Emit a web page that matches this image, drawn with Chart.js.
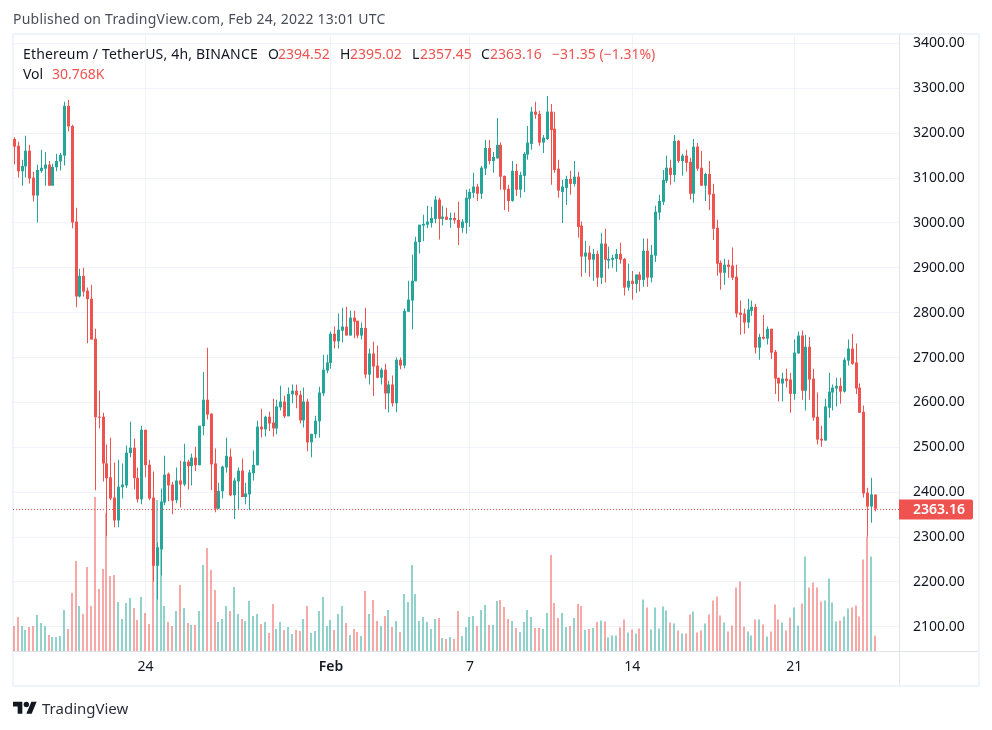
<!DOCTYPE html>
<html>
<head>
<meta charset="utf-8">
<title>ETHUSDT 4h</title>
<script src="https://cdn.jsdelivr.net/npm/chart.js@4"></script>
<style>
  html, body { margin: 0; padding: 0; background: #fff; }
  #wrap { position: relative; width: 992px; height: 730px; overflow: hidden; font-family: "Noto Sans", sans-serif; color: #131722; }
  #myChart { position: absolute; left: 0; top: 0; }
  #frame { position: absolute; left: 12px; top: 33px; width: 964px; height: 650px; border: 2px solid #f0f3fa; }
  #sepV { position: absolute; left: 899px; top: 34px; width: 1px; height: 651px; background: #e0e3eb; }
  #sepH { position: absolute; left: 899px; top: 651px; width: 79px; height: 1px; background: #e0e3eb; }
  .t { position: absolute; font-size: 14px; line-height: 18px; white-space: nowrap; }
  .r { color: #ef5350; }
  #logo { position: absolute; left: 13px; top: 699px; }
</style>
</head>
<body>
<div id="wrap">
  <div id="frame"></div>
  <div id="sepV"></div>
  <div id="sepH"></div>
  <canvas id="myChart" width="992" height="730"></canvas>
  <div class="t" style="left:13px;top:10px;color:#4a4e59;letter-spacing:.22px">Published on TradingView.com, Feb 24, 2022 13:01 UTC</div>
  <div class="t" style="left:23px;top:45px;letter-spacing:.18px">Ethereum / TetherUS, 4h, BINANCE</div>
  <div class="t" style="left:268px;top:45px">O</div><div class="t r" style="left:278px;top:45px">2394.52</div>
  <div class="t" style="left:340px;top:45px">H</div><div class="t r" style="left:350px;top:45px">2395.02</div>
  <div class="t" style="left:412px;top:45px">L</div><div class="t r" style="left:420px;top:45px">2357.45</div>
  <div class="t" style="left:481px;top:45px">C</div><div class="t r" style="left:490px;top:45px">2363.16</div>
  <div class="t r" style="left:552px;top:45px">−31.35 (−1.31%)</div>
  <div class="t" style="left:23px;top:65px">Vol</div><div class="t r" style="left:52px;top:65px">30.768K</div>
  <svg id="logo" width="24" height="19" viewBox="0 0 36 28"><path fill="#131722" d="M14 22H7V11H0V4h14v18zM28 22h-8l7.5-18h8L28 22z"/><circle fill="#131722" cx="20" cy="8" r="4"/></svg>
  <div class="t" style="left:42px;top:699px;font-size:15px;color:#2a2e39">TradingView</div>
</div>
<script>
const priceTicks = [2100, 2200, 2300, 2400, 2500, 2600, 2700, 2800, 2900, 3000, 3100, 3200, 3300, 3400];
const timeTickIndex = [34, 82, 118, 160, 202];
const timeTickLabels = ['24', 'Feb', '7', '14', '21'];

const opens = [3187,3172,3115,3126,3161,3101,3061,3116,3121,3130,3083,3124,3137,3150,3261,3216,3003,2836,2882,2849,2831,2742,2568,2568,2464,2433,2388,2337,2411,2415,
2487,2499,2432,2384,2539,2461,2388,2236,2272,2377,2441,2417,2382,2426,2417,2468,2458,2477,2460,2547,2606,2575,2464,2363,2402,2455,2479,2393,2424,2448,
2389,2395,2442,2460,2546,2540,2568,2555,2542,2589,2602,2569,2618,2626,2617,2560,2602,2511,2529,2558,2620,2671,2688,2753,2736,2760,2769,2749,2789,2782,
2749,2766,2662,2709,2682,2655,2673,2620,2640,2598,2695,2682,2802,2827,2870,2957,2994,2996,3000,3009,3052,3009,3014,3007,3011,3007,2989,3000,3054,3067,
3081,3065,3121,3167,3138,3144,3174,3105,3076,3049,3116,3074,3105,3152,3176,3248,3243,3179,3187,3248,3210,3121,3069,3078,3098,3087,3103,2994,2925,2934,
2918,2931,2878,2954,2916,2918,2920,2931,2920,2856,2871,2864,2885,2873,2938,2878,2927,3023,3047,3094,3123,3107,3183,3138,3150,3136,3065,3170,3123,3083,
3109,3065,2989,2911,2889,2907,2905,2880,2800,2798,2778,2804,2813,2722,2746,2742,2764,2713,2655,2642,2653,2651,2619,2709,2749,2626,2724,2653,2568,2519,
2515,2588,2622,2631,2637,2624,2693,2720,2689,2633,2579,2399,2368,2394.52];
const highs = [3191,3181,3141,3194,3174,3114,3130,3163,3158,3138,3132,3154,3156,3270,3274,3219,3034,2898,2900,2856,2862,2764,2626,2577,2506,2521,2466,2472,2464,2504,
2557,2519,2455,2548,2539,2472,2446,2288,2408,2481,2444,2423,2455,2470,2508,2472,2486,2501,2548,2668,2722,2575,2497,2421,2459,2521,2497,2432,2455,2475,
2421,2450,2493,2559,2586,2570,2579,2608,2606,2637,2615,2633,2640,2640,2626,2633,2608,2530,2570,2635,2706,2706,2758,2769,2798,2811,2813,2804,2804,2782,
2778,2811,2720,2735,2726,2677,2686,2648,2660,2700,2700,2809,2871,2929,2969,2996,3018,3038,3036,3060,3056,3038,3034,3023,3023,3047,3009,3074,3076,3112,
3087,3127,3185,3185,3158,3234,3179,3105,3085,3138,3132,3114,3158,3216,3259,3270,3250,3196,3283,3265,3248,3141,3096,3105,3116,3138,3114,3003,2960,2949,
2942,2938,2978,2987,2947,2929,2942,2956,2922,2909,2893,2885,2891,2965,2965,2951,3038,3063,3118,3150,3141,3196,3185,3154,3163,3145,3187,3178,3161,3112,
3138,3087,3007,2916,2920,2918,2945,2907,2827,2809,2831,2827,2820,2753,2795,2769,2764,2717,2655,2666,2675,2666,2740,2758,2760,2751,2746,2675,2622,2548,
2608,2666,2640,2655,2655,2700,2740,2753,2731,2642,2593,2410,2432,2395.02];
const lows = [3130,3101,3083,3101,3088,3048,3001,3112,3083,3083,3083,3115,3117,3128,3204,2988,2812,2834,2836,2732,2740,2404,2542,2424,2302,2382,2322,2322,2386,2409,
2478,2406,2377,2373,2433,2382,2201,2161,2214,2371,2380,2351,2375,2366,2413,2406,2415,2447,2460,2527,2562,2404,2355,2363,2386,2444,2391,2340,2363,2389,
2373,2360,2426,2460,2522,2524,2536,2524,2529,2582,2565,2569,2598,2587,2553,2544,2491,2478,2520,2522,2614,2665,2675,2720,2720,2734,2749,2749,2743,2743,
2740,2654,2640,2614,2654,2640,2585,2578,2591,2578,2674,2676,2802,2763,2870,2932,2959,2988,2990,2999,2963,2994,3007,2989,2998,2951,2978,2976,2991,3056,
3049,3054,3107,3130,3112,3143,3074,3029,3025,3047,3060,3056,3069,3141,3163,3232,3172,3156,3185,3085,3112,3056,3000,3040,3063,3081,2967,2880,2889,2880,
2871,2858,2864,2867,2898,2900,2891,2909,2838,2849,2829,2844,2847,2858,2858,2867,2913,3007,3040,3089,3085,3092,3134,3105,3114,3052,3045,3116,3083,3049,
3029,2962,2882,2851,2862,2878,2873,2789,2751,2753,2766,2793,2709,2695,2740,2729,2697,2619,2602,2602,2633,2577,2606,2709,2606,2582,2606,2559,2506,2501,
2515,2566,2582,2591,2597,2622,2682,2684,2619,2577,2388,2301,2332,2357.45];
const closes = [3170,3115,3127,3161,3099,3061,3118,3123,3130,3083,3125,3138,3152,3261,3215,3001,2836,2882,2847,2830,2740,2567,2566,2464,2431,2386,2337,2412,2417,2488,
2499,2431,2384,2539,2460,2386,2236,2277,2379,2439,2415,2381,2426,2417,2468,2458,2477,2460,2548,2606,2573,2462,2363,2403,2457,2481,2393,2426,2448,2389,
2397,2444,2461,2546,2540,2568,2553,2542,2591,2602,2569,2619,2626,2616,2560,2602,2511,2530,2559,2622,2673,2689,2753,2736,2762,2769,2749,2789,2780,2749,
2766,2662,2709,2680,2655,2673,2620,2640,2598,2695,2682,2804,2829,2871,2958,2996,2998,3003,3011,3052,3009,3014,3007,3011,3006,2989,3003,3056,3069,3081,
3065,3123,3167,3138,3147,3174,3103,3074,3049,3116,3074,3107,3154,3179,3248,3241,3179,3190,3248,3207,3118,3072,3081,3098,3087,3103,2991,2925,2934,2918,
2931,2878,2954,2918,2920,2922,2931,2918,2856,2871,2864,2885,2873,2938,2878,2929,3025,3049,3096,3123,3107,3183,3138,3150,3134,3065,3170,3121,3083,3109,
3063,2987,2909,2889,2907,2902,2878,2798,2795,2778,2807,2813,2722,2746,2742,2764,2711,2653,2642,2653,2648,2619,2711,2749,2626,2724,2651,2566,2517,2515,
2591,2624,2633,2637,2624,2695,2720,2686,2631,2577,2397,2368,2395,2363.16];
const volumes = [50,68,50,42,48,50,72,56,50,32,28,28,30,82,44,116,180,90,74,168,90,308,124,164,276,150,152,98,64,96,
106,86,62,108,76,54,189,302,202,90,58,50,80,132,86,56,52,52,80,172,206,162,122,58,64,90,80,128,74,64,
60,100,70,74,54,58,36,94,44,58,42,48,34,42,40,64,90,36,40,80,108,50,62,42,74,90,56,32,44,38,
30,120,74,102,60,50,70,82,48,60,38,114,98,172,114,60,68,58,44,64,66,26,24,28,24,80,30,48,68,70,
50,82,92,52,52,100,102,88,64,60,46,38,58,82,68,46,46,44,76,192,96,66,76,48,50,66,94,90,42,44,
46,58,61,59,27,31,31,47,63,37,43,35,45,103,87,43,87,45,89,81,57,55,41,35,35,73,79,37,41,55,
73,101,109,71,57,39,51,127,139,49,39,31,63,63,53,29,39,93,63,57,41,67,87,51,95,189,127,137,127,99,
101,145,97,59,61,69,85,87,91,69,183,229,189,30.768];

const lastClose = closes[closes.length - 1];
const red = '#ef5350', green = '#26a69a';
const isDown = i => closes[i] < opens[i];
const candleColors = closes.map((c, i) => isDown(i) ? red : green);
const volumeColors = closes.map((c, i) => isDown(i) ? 'rgba(239,83,80,0.5)' : 'rgba(38,166,154,0.5)');

// snap bars to whole pixels so wicks stay crisp
const snapBars = {
  id: 'snapBars',
  afterDatasetsUpdate(chart) {
    chart.data.datasets.forEach((ds, d) => {
      chart.getDatasetMeta(d).data.forEach(el => {
        el.x = ds.yAxisID === 'vol' ? Math.floor(el.x) : Math.floor(el.x) + 0.5;
      });
    });
  }
};

// dotted last price line and the red price tag
const lastPrice = {
  id: 'lastPrice',
  afterDatasetsDraw(chart) {
    const c = chart.ctx, a = chart.chartArea;
    const y = Math.round(chart.scales.y.getPixelForValue(lastClose)) + 0.5;
    c.save();
    c.strokeStyle = red;
    c.lineWidth = 1;
    c.setLineDash([1, 2]);
    c.beginPath(); c.moveTo(a.left, y); c.lineTo(a.right, y); c.stroke();
    c.setLineDash([]);
    c.fillStyle = red;
    c.beginPath();
    c.roundRect(a.right, y - 10, 74, 20, [0, 2, 2, 0]);
    c.fill();
    c.fillStyle = '#fff';
    c.font = '600 14px "Noto Sans"';
    c.textBaseline = 'middle';
    c.fillText(lastClose.toFixed(2), 913, y + 1);
    c.restore();
  }
};

new Chart(document.getElementById('myChart'), {
  type: 'bar',
  data: {
    datasets: [
      {
        label: 'Vol', yAxisID: 'vol', order: 3, grouped: false, barThickness: 2, inflateAmount: 0,
        data: volumes.map((v, i) => ({ x: i, y: v })), backgroundColor: volumeColors
      },
      {
        label: 'Wick', yAxisID: 'y', order: 2, grouped: false, barThickness: 1, inflateAmount: 0,
        data: highs.map((h, i) => ({ x: i, y: [lows[i], h] })), backgroundColor: candleColors
      },
      {
        label: 'Body', yAxisID: 'y', order: 1, grouped: false, barThickness: 3, inflateAmount: 0, minBarLength: 1,
        data: opens.map((o, i) => ({ x: i, y: [o, closes[i]] })), backgroundColor: candleColors
      }
    ]
  },
  options: {
    responsive: false,
    animation: false,
    layout: { padding: { left: 13, top: 34, right: 14, bottom: 45 } },
    plugins: { legend: { display: false }, tooltip: { enabled: false } },
    scales: {
      x: {
        type: 'linear',
        offset: false,
        min: -0.337,
        max: 229.1,
        afterBuildTicks: s => { s.ticks = timeTickIndex.map(v => ({ value: v })); },
        afterFit: s => { s.height = 34; },
        grid: { color: '#f0f3fa', drawTicks: false, offset: false },
        border: { color: '#e0e3eb' },
        ticks: {
          autoSkip: false, maxRotation: 0, padding: 8, color: '#131722',
          font: ctx => ({ family: 'Noto Sans', size: 14, weight: ctx.index === 1 ? '600' : '400' }),
          callback: v => timeTickLabels[timeTickIndex.indexOf(v)]
        }
      },
      y: {
        position: 'right',
        min: 2046,
        max: 3421,
        afterBuildTicks: s => { s.ticks = priceTicks.map(v => ({ value: v })); },
        afterFit: s => { s.width = 79; },
        grid: { color: '#f0f3fa', drawTicks: false },
        border: { color: '#e0e3eb' },
        ticks: {
          padding: 14, color: '#131722',
          font: { family: 'Noto Sans', size: 14 },
          callback: v => v.toFixed(2)
        }
      },
      vol: { display: false, min: 0, max: 1235 }
    }
  },
  plugins: [snapBars, lastPrice]
});
</script>
</body>
</html>
